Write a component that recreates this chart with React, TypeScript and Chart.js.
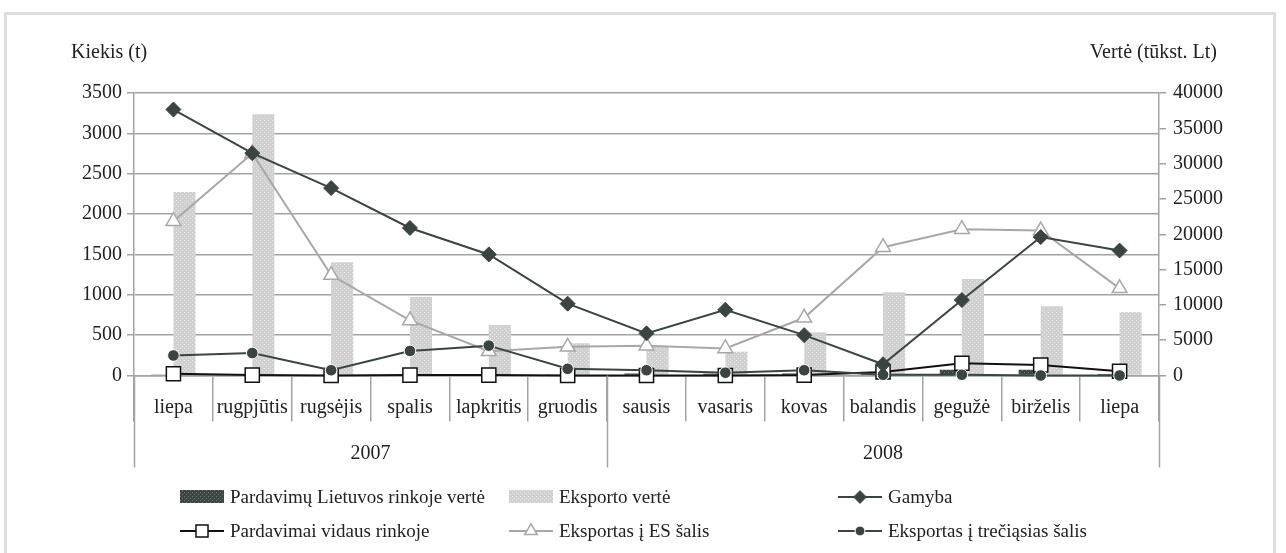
import React, { useEffect, useRef } from 'react';
import { Chart, registerables } from 'chart.js';

Chart.register(...registerables);

// ---------- data ----------
const months = ['liepa', 'rugpjūtis', 'rugsėjis', 'spalis', 'lapkritis', 'gruodis', 'sausis', 'vasaris', 'kovas', 'balandis', 'gegužė', 'birželis', 'liepa'];
const yearLabels = ['2007', '2008'];
const yearSpans = [6, 7];

// values in thousand Lt (right axis)
const ltMarketValue = [150, 100, 100, 120, 120, 150, 300, 250, 300, 250, 800, 800, 200];
const exportValue = [26000, 37000, 16050, 11100, 7150, 4570, 4080, 3380, 6110, 11800, 13650, 9800, 8950];

// quantities in tonnes (left axis)
const production = [3295, 2755, 2322, 1828, 1500, 890, 522, 815, 500, 139, 935, 1715, 1548];
const domesticSales = [22, 5, 0, 5, 5, 0, 0, 0, 5, 43, 152, 130, 52];
const euExport = [1912, 2750, 1245, 682, 300, 356, 370, 335, 715, 1590, 1812, 1796, 1080];
const thirdExport = [248, 278, 65, 304, 370, 83, 65, 35, 65, 9, 9, 0, 0];

const seriesNames = [
  'Pardavimų Lietuvos rinkoje vertė',
  'Eksporto vertė',
  'Gamyba',
  'Pardavimai vidaus rinkoje',
  'Eksportas į ES šalis',
  'Eksportas į trečiąsias šalis',
];
const leftTitle = 'Kiekis (t)';
const rightTitle = 'Vertė (tūkst. Lt)';

// ---------- styles ----------
const FONT_FAMILY = "'Liberation Serif', 'Times New Roman', serif";
const TEXT = '#222222';
const GRID = '#a3a3a3';
const DARK = '#3a4442';
const LIGHT_LINE = '#a8a8a8';

function makePattern(ctx: CanvasRenderingContext2D, base: string, dot: string) {
  const c = document.createElement('canvas');
  c.width = 4;
  c.height = 4;
  const g = c.getContext('2d')!;
  g.fillStyle = base;
  g.fillRect(0, 0, 4, 4);
  g.fillStyle = dot;
  g.fillRect(0, 0, 1, 1);
  g.fillRect(2, 2, 1, 1);
  return ctx.createPattern(c, 'repeat') || base;
}

function drawMarker(ctx: CanvasRenderingContext2D, style: string, x: number, y: number, r: number) {
  ctx.beginPath();
  if (style === 'rectRot') {
    ctx.moveTo(x, y - r);
    ctx.lineTo(x + r, y);
    ctx.lineTo(x, y + r);
    ctx.lineTo(x - r, y);
    ctx.closePath();
  } else if (style === 'rect') {
    const s = r * Math.SQRT1_2;
    ctx.rect(x - s, y - s, 2 * s, 2 * s);
  } else if (style === 'triangle') {
    ctx.moveTo(x, y - r);
    ctx.lineTo(x + r * Math.sin(Math.PI / 3), y + r / 2);
    ctx.lineTo(x - r * Math.sin(Math.PI / 3), y + r / 2);
    ctx.closePath();
  } else {
    ctx.arc(x, y, r, 0, Math.PI * 2);
  }
  ctx.fill();
  ctx.stroke();
}

const extrasPlugin = {
  id: 'extras',
  afterDraw(chart: any) {
    const { ctx, chartArea, scales } = chart;
    const x = scales.x;
    ctx.save();

    // long separators (axis edges + year boundary)
    const longBottom = chartArea.bottom + 92;
    ctx.strokeStyle = GRID;
    ctx.lineWidth = 1.5;
    let cum = 0;
    const bounds = [0];
    yearSpans.forEach((s) => {
      cum += s;
      bounds.push(cum);
    });
    bounds.forEach((b) => {
      const px = Math.round(x.getPixelForValue(b - 0.5)) + 0.5;
      ctx.beginPath();
      ctx.moveTo(px, chartArea.bottom);
      ctx.lineTo(px, longBottom);
      ctx.stroke();
    });

    // year labels
    ctx.fillStyle = TEXT;
    ctx.font = `20px ${FONT_FAMILY}`;
    ctx.textAlign = 'center';
    ctx.textBaseline = 'middle';
    let start = 0;
    yearLabels.forEach((lbl, i) => {
      const center = x.getPixelForValue(start + yearSpans[i] / 2 - 0.5);
      ctx.fillText(lbl, center, chartArea.bottom + 78);
      start += yearSpans[i];
    });

    // axis titles
    ctx.textAlign = 'left';
    ctx.fillText(leftTitle, 71, 53);
    ctx.textAlign = 'right';
    ctx.fillText(rightTitle, 1217, 53);

    // legend
    const cols = [180, 509, 838];
    const rows = [497, 531];
    const markerW = 44;
    ctx.font = `19px ${FONT_FAMILY}`;
    ctx.textAlign = 'left';
    chart.data.datasets.forEach((ds: any, i: number) => {
      const cx = cols[i % 3];
      const cy = rows[Math.floor(i / 3)];
      if (ds.type === 'bar') {
        ctx.fillStyle = ds.backgroundColor;
        ctx.fillRect(cx, cy - 7, markerW, 13);
      } else {
        ctx.strokeStyle = ds.borderColor;
        ctx.lineWidth = ds.borderWidth;
        ctx.beginPath();
        ctx.moveTo(cx, cy);
        ctx.lineTo(cx + markerW, cy);
        ctx.stroke();
        ctx.fillStyle = ds.pointBackgroundColor;
        ctx.strokeStyle = ds.pointBorderColor;
        ctx.lineWidth = ds.pointBorderWidth;
        drawMarker(ctx, ds.pointStyle, cx + markerW / 2, cy, ds.pointRadius * 0.85);
      }
      ctx.fillStyle = TEXT;
      ctx.fillText(ds.label, cx + markerW + 6, cy + 1);
    });

    ctx.restore();
  },
};

const plainNumber = (v: any) => String(v);

export default function App() {
  const ref = useRef<HTMLCanvasElement>(null);

  useEffect(() => {
    const canvas = ref.current!;
    const ctx = canvas.getContext('2d')!;
    const darkPattern = makePattern(ctx, '#3b4543', '#6f7976');
    const lightPattern = makePattern(ctx, '#d0d0d0', '#e6e6e6');
    const font = { family: FONT_FAMILY, size: 20 };

    const chart = new Chart(canvas, {
      data: {
        labels: months,
        datasets: [
          {
            type: 'bar',
            label: seriesNames[0],
            data: ltMarketValue,
            yAxisID: 'y1',
            backgroundColor: darkPattern as any,
            borderWidth: 0,
            categoryPercentage: 0.56,
            barPercentage: 1,
            order: 2,
          },
          {
            type: 'bar',
            label: seriesNames[1],
            data: exportValue,
            yAxisID: 'y1',
            backgroundColor: lightPattern as any,
            borderWidth: 0,
            categoryPercentage: 0.56,
            barPercentage: 1,
            order: 2,
          },
          {
            type: 'line',
            label: seriesNames[2],
            data: production,
            yAxisID: 'y',
            borderColor: DARK,
            borderWidth: 2,
            pointStyle: 'rectRot',
            pointRadius: 7.5,
            pointBackgroundColor: DARK,
            pointBorderColor: DARK,
            pointBorderWidth: 1,
            tension: 0,
            clip: false,
            order: 0,
          },
          {
            type: 'line',
            label: seriesNames[3],
            data: domesticSales,
            yAxisID: 'y',
            borderColor: '#111111',
            borderWidth: 2,
            pointStyle: 'rect',
            pointRadius: 10,
            pointBackgroundColor: '#ffffff',
            pointBorderColor: '#111111',
            pointBorderWidth: 1.5,
            tension: 0,
            clip: false,
            order: 1,
          },
          {
            type: 'line',
            label: seriesNames[4],
            data: euExport,
            yAxisID: 'y',
            borderColor: LIGHT_LINE,
            borderWidth: 2,
            pointStyle: 'triangle',
            pointRadius: 8.5,
            pointBackgroundColor: '#ffffff',
            pointBorderColor: LIGHT_LINE,
            pointBorderWidth: 1.5,
            tension: 0,
            clip: false,
            order: 1,
          },
          {
            type: 'line',
            label: seriesNames[5],
            data: thirdExport,
            yAxisID: 'y',
            borderColor: DARK,
            borderWidth: 2,
            pointStyle: 'circle',
            pointRadius: 5.8,
            pointBackgroundColor: DARK,
            pointBorderColor: '#ffffff',
            pointBorderWidth: 1,
            tension: 0,
            clip: false,
            order: 0,
          },
        ],
      } as any,
      options: {
        animation: false,
        responsive: true,
        maintainAspectRatio: false,
        events: [],
        layout: { padding: { top: 93, left: 0, right: 0, bottom: 0 } },
        plugins: {
          legend: { display: false },
          tooltip: { enabled: false },
          title: { display: false },
        },
        scales: {
          x: {
            type: 'category',
            offset: true,
            grid: {
              display: true,
              drawOnChartArea: false,
              offset: true,
              tickLength: 46,
              color: GRID,
              lineWidth: 1.5,
            },
            border: { display: true, color: GRID, width: 1.5 },
            ticks: { font, color: TEXT, padding: -26, maxRotation: 0, autoSkip: false },
            afterFit: (s: any) => {
              s.height = 553 - 375.5;
            },
          },
          y: {
            type: 'linear',
            position: 'left',
            min: 0,
            max: 3500,
            ticks: { stepSize: 500, font, color: TEXT, padding: 5, callback: plainNumber },
            grid: { color: GRID, lineWidth: 1.5, tickLength: 7 },
            border: { display: true, color: GRID, width: 1.5 },
            afterFit: (s: any) => {
              s.width = 134;
            },
          },
          y1: {
            type: 'linear',
            position: 'right',
            min: 0,
            max: 40000,
            ticks: { stepSize: 5000, font, color: TEXT, padding: 7, callback: plainNumber },
            grid: { drawOnChartArea: false, color: GRID, lineWidth: 1.5, tickLength: 7 },
            border: { display: true, color: GRID, width: 1.5 },
            afterFit: (s: any) => {
              s.width = 127;
            },
          },
        },
      } as any,
      plugins: [extrasPlugin],
    });

    return () => chart.destroy();
  }, []);

  return (
    <div style={{ position: 'absolute', left: 0, top: 0, width: 1286, height: 553, background: '#ffffff', overflow: 'hidden' }}>
      <div
        style={{
          position: 'absolute',
          left: 4,
          top: 12,
          width: 1272,
          height: 560,
          border: '3px solid #dedede',
          boxSizing: 'border-box',
        }}
      />
      <div style={{ position: 'absolute', left: 0, top: 0, width: 1286, height: 553 }}>
        <canvas ref={ref} />
      </div>
    </div>
  );
}
